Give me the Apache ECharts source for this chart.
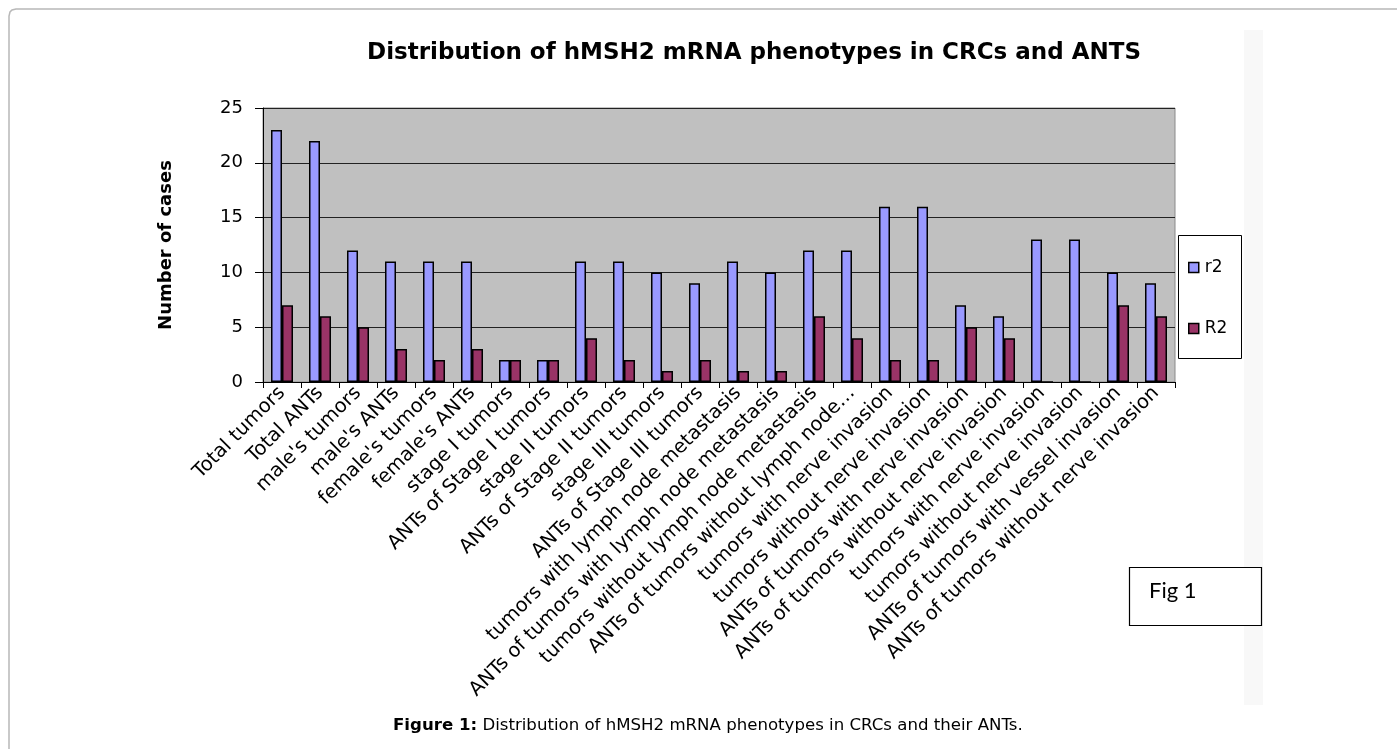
<!DOCTYPE html>
<html>
<head>
<meta charset="utf-8">
<script src="https://cdn.jsdelivr.net/npm/echarts@6/dist/echarts.min.js"></script>
<style>
    html, body { margin: 0; padding: 0; background: #fff; }
    #main { width: 1397px; height: 749px; }
</style>
</head>
<body>
<div id="main"></div>
<script type="text/javascript">
// categories along the x axis
var categories = [
    'Total tumors', 'Total ANTs', 'male\'s tumors', 'male\'s ANTs',
    'female\'s tumors', 'female\'s ANTs', 'stage I tumors', 'ANTs of Stage I tumors',
    'stage II tumors', 'ANTs of Stage II tumors', 'stage III tumors', 'ANTs of Stage III tumors',
    'tumors with lymph node metastasis', 'ANTs of tumors with lymph node metastasis',
    'tumors without lymph node metastasis', 'ANTs of tumors without lymph node\u2026',
    'tumors with nerve invasion', 'tumors without nerve invasion',
    'ANTs of tumors with nerve invasion', 'ANTs of tumors without nerve invasion',
    'tumors with nerve invasion', 'tumors without nerve invasion',
    'ANTs of tumors with vessel invasion', 'ANTs of tumors without nerve invasion'
];
// series values
var r2Values = [23, 22, 12, 11, 11, 11, 2, 2, 11, 11, 10, 9, 11, 10, 12, 12, 16, 16, 7, 6, 13, 13, 10, 9];
var R2Values = [7, 6, 5, 3, 2, 3, 2, 2, 4, 2, 1, 2, 1, 1, 6, 4, 2, 2, 5, 4, 0, 0, 7, 6];
// y axis ticks
var yMin = 0;
var yMax = 25;
var yStep = 5;

var font = 'DejaVu Sans, sans-serif';

var chart = echarts.init(document.getElementById('main'));

var option = {
    animation: false,
    backgroundColor: '#fff',
    textStyle: { fontFamily: font },
    title: {
        text: 'Distribution of hMSH2 mRNA phenotypes in CRCs and ANTS',
        left: 749,
        textAlign: 'center',
        top: 37,
        textStyle: { fontSize: 23, fontWeight: 'bold', color: '#000', fontFamily: font }
    },
    legend: {
        orient: 'vertical',
        left: 1188,
        top: 259,
        itemGap: 44,
        itemWidth: 10,
        itemHeight: 10,
        padding: 0,
        icon: 'rect',
        textStyle: { fontSize: 17, color: '#000', fontFamily: font, padding: [0, 0, 0, 1] },
        itemStyle: { borderColor: '#000', borderWidth: 1.5 },
        data: ['r2', 'R2']
    },
    grid: {
        left: 263,
        right: 222,
        top: 108,
        bottom: 367,
        show: true,
        backgroundColor: '#c0c0c0',
        borderColor: '#8a8a8a',
        borderWidth: 1
    },
    xAxis: {
        type: 'category',
        data: categories,
        axisLine: { lineStyle: { color: '#000', width: 1 } },
        axisTick: { show: true, length: 6, lineStyle: { color: '#000' } },
        axisLabel: {
            interval: 0,
            rotate: 45,
            fontSize: 19.5,
            color: '#000',
            fontFamily: font,
            margin: 8
        }
    },
    yAxis: {
        type: 'value',
        min: yMin,
        max: yMax,
        interval: yStep,
        name: 'Number of cases',
        nameLocation: 'middle',
        nameGap: 88,
        nameTextStyle: { fontSize: 18, fontWeight: 'bold', color: '#000', fontFamily: font },
        axisLine: { show: true, lineStyle: { color: '#000', width: 1 } },
        axisTick: { show: true, length: 8, lineStyle: { color: '#000' } },
        axisLabel: { fontSize: 18, color: '#000', fontFamily: font, margin: 20 },
        splitLine: { show: true, lineStyle: { color: '#222', width: 1 } }
    },
    series: [
        {
            name: 'r2',
            type: 'bar',
            data: r2Values,
            barWidth: 11,
            barGap: '0%',
            itemStyle: { color: '#9999ff', borderColor: '#000', borderWidth: 1.5 }
        },
        {
            name: 'R2',
            type: 'bar',
            data: R2Values,
            barWidth: 11,
            barGap: '0%',
            itemStyle: { color: '#993366', borderColor: '#000', borderWidth: 1.5 }
        }
    ],
    graphic: [
        // page frame
        {
            type: 'polyline',
            z: -1,
            shape: { points: [[9, 760], [9, 16], [10, 12], [12, 10], [16, 9], [1410, 9]] },
            style: { stroke: '#b8b8b8', lineWidth: 1.5, fill: null }
        },
        // light strip at the right
        {
            type: 'rect',
            z: -1,
            shape: { x: 1244, y: 30, width: 19, height: 675 },
            style: { fill: '#f8f8f8' }
        },
        // legend box
        {
            type: 'rect',
            shape: { x: 1178.5, y: 235.5, width: 63, height: 123 },
            style: { fill: '#fff', stroke: '#000', lineWidth: 1 },
            z: 0
        },
        // Fig 1 box
        {
            type: 'rect',
            shape: { x: 1129.5, y: 567.5, width: 132, height: 58 },
            style: { fill: '#fff', stroke: '#000', lineWidth: 1.2 }
        },
        {
            type: 'text',
            x: 1149,
            y: 591,
            style: { text: 'Fig 1', fontSize: 22, fill: '#000', fontFamily: 'Lato, Noto Sans, sans-serif', verticalAlign: 'middle' }
        },
        // caption
        {
            type: 'text',
            x: 393,
            y: 726,
            style: {
                text: '{b|Figure 1:} Distribution of hMSH2 mRNA phenotypes in CRCs and their ANTs.',
                fontSize: 16.6,
                fill: '#000',
                fontFamily: font,
                verticalAlign: 'middle',
                rich: {
                    b: { fontWeight: 'bold', fontSize: 16.6, fontFamily: font }
                }
            }
        }
    ]
};

chart.setOption(option);
</script>
</body>
</html>
